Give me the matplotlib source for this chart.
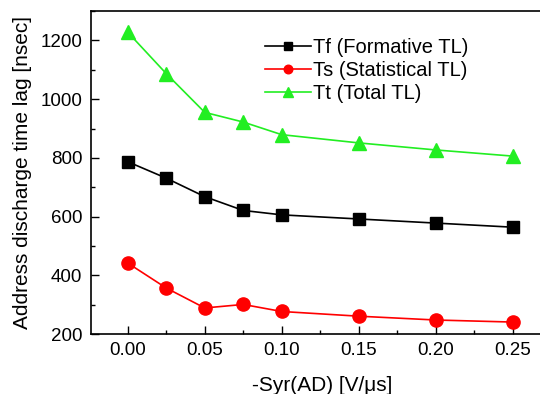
import matplotlib
matplotlib.use('Agg')
import matplotlib.pyplot as plt
from matplotlib.ticker import MultipleLocator

plt.rcParams['font.family'] = ['Liberation Sans', 'DejaVu Sans']

# data
syr = [0.0, 0.025, 0.05, 0.075, 0.10, 0.15, 0.20, 0.25]
tf = [787, 731, 668, 621, 606, 592, 578, 564]
ts = [442, 357, 289, 301, 277, 261, 248, 241]
tt = [1228, 1087, 955, 922, 879, 851, 827, 806]

labels = ['Tf (Formative TL)', 'Ts (Statistical TL)', 'Tt (Total TL)']


def main():
    fig = plt.figure(figsize=(5.4, 3.94), dpi=100)
    ax = fig.add_axes([0.168, 0.152, 0.856, 0.820])

    ax.plot(syr, tf, color='black', marker='s', markersize=8.5, lw=1.2, label=labels[0])
    ax.plot(syr, ts, color='#ff0000', marker='o', markersize=9.5, lw=1.2, label=labels[1])
    ax.plot(syr, tt, color='#22ee22', marker='^', markersize=10, lw=1.2, label=labels[2])

    ax.set_xlim(-0.024, 0.276)
    ax.set_ylim(200, 1300)
    ax.xaxis.set_major_locator(MultipleLocator(0.05))
    ax.xaxis.set_minor_locator(MultipleLocator(0.025))
    ax.yaxis.set_major_locator(MultipleLocator(200))
    ax.yaxis.set_minor_locator(MultipleLocator(100))
    ax.xaxis.set_major_formatter(plt.FormatStrFormatter('%.2f'))
    ax.tick_params(which='both', direction='in', labelsize=13.5, top=False, right=False)
    ax.tick_params(which='major', length=6, width=1, pad=6)
    ax.tick_params(which='minor', length=3, width=1)
    for s in ax.spines.values():
        s.set_linewidth(1.2)

    ax.set_xlabel('-Syr(AD) [V/\u03bcs]', fontsize=15, labelpad=12)
    ax.set_ylabel('Address discharge time lag [nsec]', fontsize=15, labelpad=6)

    ax.legend(loc='upper left', bbox_to_anchor=(0.472, 0.928), bbox_transform=fig.transFigure,
              frameon=False, fontsize=14.5, handlelength=2.3, handletextpad=0.1,
              labelspacing=0.2, borderpad=0, markerscale=0.65)

    fig.savefig('out.png', dpi=100)


if __name__ == "__main__":
    main()
